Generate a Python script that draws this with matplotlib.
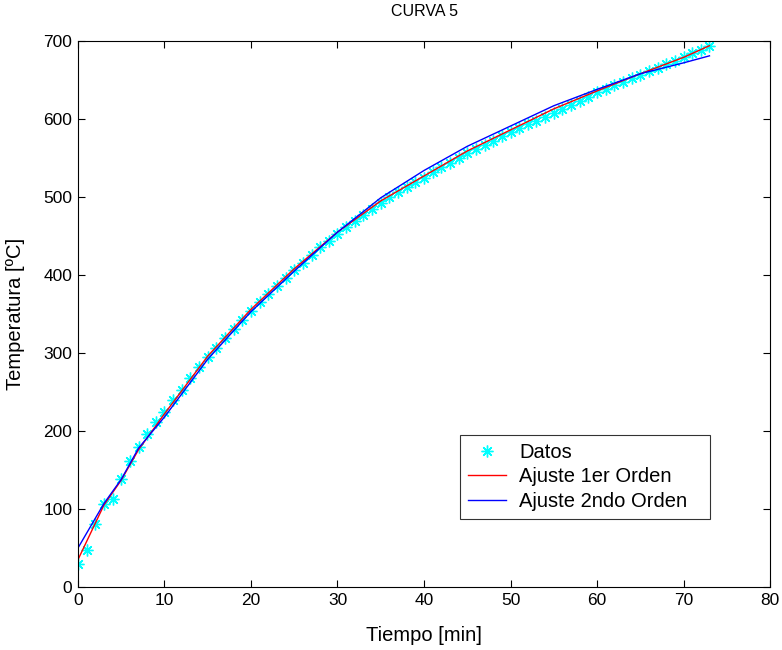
import matplotlib
matplotlib.use("Agg")
import matplotlib.pyplot as plt
import numpy as np

# Measured heating curve: time [min] and temperature [ºC]
tiempo = list(range(0, 74))
temperatura = [
    29, 48, 81, 107, 113, 138, 162, 179, 196, 211,
    225, 240, 253, 268, 282, 295, 307, 319, 331, 342,
    354, 366, 376, 386, 396, 406, 416, 426, 436, 444,
    453, 461, 469, 477, 485, 492, 500, 507, 513, 519,
    525, 532, 538, 544, 550, 556, 561, 567, 572, 578,
    583, 588, 593, 598, 603, 608, 613, 618, 623, 628,
    634, 638, 643, 648, 653, 657, 662, 666, 671, 675,
    680, 684, 688, 694,
]

# First-order fit
t_ajuste1 = [0, 3, 5, 7, 10, 15, 20, 25, 30, 35, 40, 45, 50, 55, 60, 65, 70, 73]
T_ajuste1 = [35, 105, 137, 176, 222, 296, 356, 408, 455, 495, 527, 559, 586, 613, 636, 658, 679, 694]

# Second-order fit
t_ajuste2 = [0, 3, 5, 7, 10, 15, 20, 25, 30, 35, 40, 45, 50, 55, 60, 65, 70, 73]
T_ajuste2 = [50, 107, 138, 178, 218, 292, 353, 405, 455, 499, 534, 565, 591, 617, 638, 658, 672, 681]

plt.rcParams['font.family'] = ['Liberation Sans', 'DejaVu Sans']

fig = plt.figure(figsize=(7.82, 6.5), dpi=100)
ax = fig.add_axes([0.0997, 0.0969, 0.8850, 0.8400])

ax.plot(tiempo, temperatura, linestyle='none', marker=(8, 2, 0), markersize=8.5,
        markeredgewidth=1.0, color=(0, 1, 1), label='Datos')
ax.plot(t_ajuste1, T_ajuste1, color=(1, 0, 0), linewidth=1.0, label='Ajuste 1er Orden')
ax.plot(t_ajuste2, T_ajuste2, color=(0, 0, 1), linewidth=1.0, label='Ajuste 2ndo Orden')

ax.set_xlim(0, 80)
ax.set_ylim(0, 700)
ax.set_xticks(np.arange(0, 81, 10))
ax.set_yticks(np.arange(0, 701, 100))
ax.tick_params(direction='in', length=5, width=0.8, top=True, right=True,
               labelsize=12.5, pad=4)
for s in ax.spines.values():
    s.set_linewidth(0.8)

ax.set_title('CURVA 5', fontsize=11.5, pad=18)
ax.set_xlabel('Tiempo [min]', fontsize=14.5, labelpad=13)
ax.set_ylabel('Temperatura [ºC]', fontsize=14.5, labelpad=13)

leg = ax.legend(loc='upper left', bbox_to_anchor=(0.552, 0.119, 0.361, 0.160),
                mode='expand', fontsize=14.5,
                frameon=True, fancybox=False, handlelength=1.9, handletextpad=0.65,
                borderpad=0.4, labelspacing=0.28, borderaxespad=0)
leg.get_frame().set_edgecolor('black')
leg.get_frame().set_linewidth(0.8)

fig.savefig('out.png', dpi=100)
